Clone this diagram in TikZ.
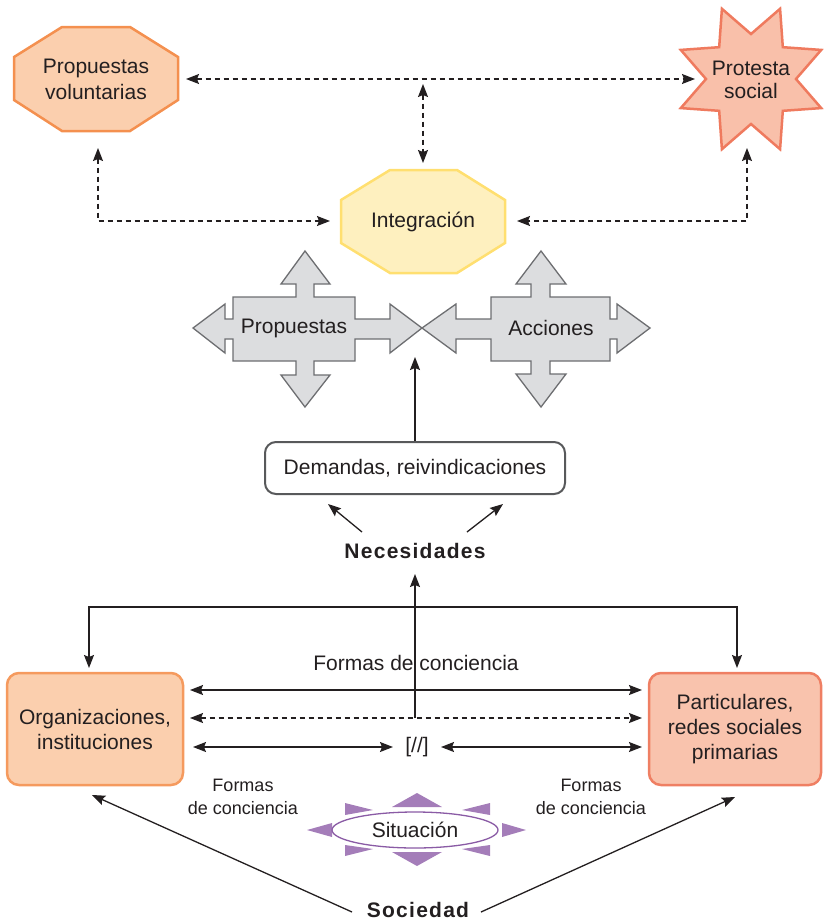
\documentclass[tikz,border=0pt]{standalone}
\usepackage{fontspec}
\setmainfont{Liberation Sans}
\usetikzlibrary{arrows.meta,calc}
\definecolor{ink}{HTML}{231F20}
\definecolor{pvfill}{HTML}{FBCFAE}
\definecolor{pvline}{HTML}{F4904F}
\definecolor{psfill}{HTML}{F9C0AA}
\definecolor{psline}{HTML}{EF7A5E}
\definecolor{infill}{HTML}{FEF0BF}
\definecolor{inline}{HTML}{FFDF70}
\definecolor{crfill}{HTML}{DCDDDF}
\definecolor{crline}{HTML}{6D6E71}
\definecolor{orgline}{HTML}{F59A5E}
\definecolor{ptfill}{HTML}{F9C3AD}
\definecolor{ptline}{HTML}{EF7F63}
\definecolor{lav}{HTML}{A47DB9}
\definecolor{purp}{HTML}{8A5BA5}
\definecolor{demline}{HTML}{58595B}
\begin{document}
\begin{tikzpicture}[x=1pt,y=-1pt,
  >={Stealth[length=13pt,width=10pt,inset=2pt]},
  lbl/.style={font=\fontsize{21}{25}\selectfont, text=ink, align=center, inner sep=0pt},
  small/.style={font=\fontsize{18}{23}\selectfont, text=ink, align=center, inner sep=0pt},
  bold/.style={font=\fontsize{21}{23}\selectfont\bfseries\addfontfeatures{LetterSpace=6}, text=ink, inner sep=0pt},
  conn/.style={draw=ink, line width=1.3pt},
  dsh/.style={conn, dash pattern=on 5pt off 4pt},
  crossbox/.style={fill=crfill, draw=crline, line width=1.3pt, line join=miter},
  tri/.style={fill=lav, draw=none},
  rbox/.style={rounded corners=12pt, line width=2.5pt, inner sep=0pt}]
\useasboundingbox (0,0) rectangle (823,922);

% ---------- Propuestas voluntarias (octagon)
\filldraw[fill=pvfill, draw=pvline, line width=2.5pt]
  (62,27) -- (130,27) -- (178,57) -- (178,100) -- (130,131) -- (62,131) -- (14,100) -- (14,57) -- cycle;
\node[lbl, font=\fontsize{21}{26}\selectfont] (pv) at (96,79) {Propuestas\\voluntarias};

% ---------- Protesta social (star)
\begin{scope}[shift={(751,79)}]
\filldraw[fill=psfill, draw=psline, line width=2.5pt, line join=miter]
  (22.5:76) -- (45:45) -- (67.5:76) -- (90:45) -- (112.5:76) -- (135:45) -- (157.5:76) -- (180:45) --
  (202.5:76) -- (225:45) -- (247.5:76) -- (270:45) -- (292.5:76) -- (315:45) -- (337.5:76) -- (0:45) -- cycle;
\end{scope}
\node[lbl, font=\fontsize{21}{23}\selectfont] (ps) at (751,80) {Protesta\\social};

% ---------- Integracion (octagon)
\filldraw[fill=infill, draw=inline, line width=2.5pt]
  (390,170) -- (457,170) -- (505,200) -- (505,243) -- (457,273) -- (390,273) -- (341,243) -- (341,200) -- cycle;
\node[lbl] (in) at (423,222) {Integración};

% ---------- top dashed connectors
\coordinate (pvE) at (186,79);
\coordinate (psW) at (695,79);
\coordinate (topT) at (423,84);
\coordinate (inN) at (423,163);
\coordinate (pvS) at (98,148);
\coordinate (inW) at (330,221);
\coordinate (psS) at (747,148);
\coordinate (inE) at (517,221);
\draw[dsh, <->] (pvE) -- (psW);
\draw[dsh, <->] (topT) -- (inN);
\draw[dsh, <->] (pvS) |- (inW);
\draw[dsh, <->] (psS) |- (inE);

% ---------- Propuestas cross arrow
\filldraw[crossbox]
  (305,251) -- (330,284) -- (314,284) -- (314,297) -- (355,297) -- (355,319) -- (390,319) -- (390,304) --
  (422,328) -- (390,353) -- (390,339) -- (355,339) -- (355,361) -- (314,361) -- (314,375) -- (330,375) --
  (305,407) -- (281,375) -- (296,375) -- (296,361) -- (233,361) -- (233,339) -- (225,339) -- (225,353) --
  (193,328) -- (225,304) -- (225,319) -- (233,319) -- (233,297) -- (296,297) -- (296,284) -- (281,284) -- cycle;
\node[lbl] (prop) at (294,328) {Propuestas};

% ---------- Acciones cross arrow
\filldraw[crossbox]
  (541,251) -- (566,284) -- (550,284) -- (550,297) -- (610,297) -- (610,319) -- (617,319) -- (617,304) --
  (650,328) -- (617,353) -- (617,339) -- (610,339) -- (610,361) -- (550,361) -- (550,374) -- (566,374) --
  (541,407) -- (516,374) -- (531,374) -- (531,361) -- (491,361) -- (491,339) -- (456,339) -- (456,353) --
  (422,328) -- (456,304) -- (456,319) -- (491,319) -- (491,297) -- (531,297) -- (531,284) -- (516,284) -- cycle;
\node[lbl] (acc) at (551,328) {Acciones};

% ---------- Demandas
\node[lbl, draw=demline, line width=2pt, rounded corners=11pt, minimum width=300pt, minimum height=52pt]
  (dem) at (415,468) {Demandas, reivindicaciones};
\coordinate (crossPt) at (415,357);
\draw[conn, ->] (dem.north) -- (crossPt);

% ---------- Necesidades
\node[bold] (nec) at (415,551) {Necesidades};
\coordinate (necL) at (362,532);
\coordinate (necR) at (467,532);
\coordinate (demL) at (328,504);
\coordinate (demR) at (503,504);
\draw[conn, ->] (necL) -- (demL);
\draw[conn, ->] (necR) -- (demR);

% ---------- bottom boxes
\node[lbl, rbox, fill=pvfill, draw=orgline, minimum width=176pt, minimum height=112pt]
  (org) at (95,729) {Organizaciones,\\instituciones};
\node[lbl, rbox, fill=ptfill, draw=ptline, minimum width=172pt, minimum height=112pt]
  (part) at (735,729) {Particulares,\\redes sociales\\primarias};

% vertical line up to Necesidades and top distribution line
\coordinate (vBot) at (415,718);
\coordinate (necS) at (415,574);
\draw[conn, ->] (vBot) -- (necS);
\coordinate (orgT) at (89,668);
\coordinate (partT) at (737,668);
\draw[conn, <->] (orgT) |- (415,607) -| (partT);

% horizontal arrows
\coordinate (a1L) at (190,690);
\coordinate (a1R) at (642,690);
\coordinate (a2L) at (190,718);
\coordinate (a2R) at (642,718);
\coordinate (a3L) at (193,747);
\coordinate (a3M) at (393,747);
\coordinate (a3N) at (441,747);
\coordinate (a3R) at (642,747);
\draw[conn, <->] (a1L) -- (a1R);
\draw[dsh, <->] (a2L) -- (a2R);
\draw[conn, <->] (a3L) -- (a3M);
\draw[conn, <->] (a3N) -- (a3R);
\node[lbl] (fc) at (416,663) {Formas de conciencia};
\node[lbl] (sep) at (417,747) {[//]};

\node[small] (fcL) at (243,797) {Formas\\de conciencia};
\node[small] (fcR) at (591,797) {Formas\\de conciencia};

% ---------- Situacion
\fill[tri] (392,807) -- (442,807) -- (417,793) -- cycle;
\fill[tri] (392,852) -- (442,852) -- (417,866) -- cycle;
\fill[tri] (332,823) -- (332,837) -- (307,830) -- cycle;
\fill[tri] (502,823) -- (502,837) -- (526,830) -- cycle;
\fill[tri] (345,803) -- (373,810) -- (345,815) -- cycle;
\fill[tri] (345,845) -- (373,849) -- (345,856) -- cycle;
\fill[tri] (490,803) -- (462,810) -- (490,815) -- cycle;
\fill[tri] (490,845) -- (462,849) -- (490,856) -- cycle;
\filldraw[fill=white, draw=purp, line width=1.3pt] (415,830) ellipse [x radius=83, y radius=18];
\node[lbl] (sit) at (415,830) {Situación};

% ---------- Sociedad
\node[bold] (soc) at (418,910) {Sociedad};
\coordinate (socL) at (352,912);
\coordinate (socR) at (481,912);
\coordinate (orgB) at (92,795);
\coordinate (partB) at (735,797);
\draw[conn, ->] (socL) -- (orgB);
\draw[conn, ->] (socR) -- (partB);
\end{tikzpicture}
\end{document}
